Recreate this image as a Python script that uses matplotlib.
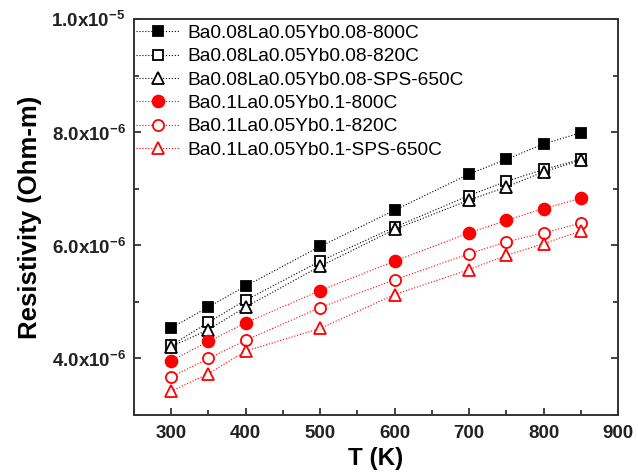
import matplotlib
matplotlib.use('Agg')
import matplotlib.pyplot as plt
from matplotlib.ticker import MultipleLocator, FuncFormatter

plt.rcParams['font.family'] = 'Liberation Sans'
plt.rcParams['mathtext.fontset'] = 'custom'
plt.rcParams['mathtext.rm'] = 'Liberation Sans:bold'
plt.rcParams['mathtext.bf'] = 'Liberation Sans:bold'

# Temperatura (K)
T = [300, 350, 400, 500, 600, 700, 750, 800, 850]

# Resistividade (x1e-6 Ohm-m)
s1 = [4.54, 4.91, 5.28, 5.98, 6.62, 7.26, 7.52, 7.79, 7.99]
s2 = [4.23, 4.64, 5.03, 5.72, 6.32, 6.88, 7.13, 7.34, 7.52]
s3 = [4.21, 4.51, 4.91, 5.63, 6.28, 6.80, 7.03, 7.30, 7.50]
s4 = [3.96, 4.30, 4.63, 5.20, 5.72, 6.22, 6.44, 6.65, 6.83]
s5 = [3.67, 4.00, 4.32, 4.90, 5.39, 5.85, 6.06, 6.22, 6.39]
s6 = [3.42, 3.73, 4.13, 4.53, 5.13, 5.57, 5.82, 6.03, 6.25]

labels = ['Ba0.08La0.05Yb0.08-800C', 'Ba0.08La0.05Yb0.08-820C',
          'Ba0.08La0.05Yb0.08-SPS-650C', 'Ba0.1La0.05Yb0.1-800C',
          'Ba0.1La0.05Yb0.1-820C', 'Ba0.1La0.05Yb0.1-SPS-650C']

series = [s1, s2, s3, s4, s5, s6]
cores = ['black', 'black', 'black', 'red', 'red', 'red']
marcadores = ['s', 's', '^', 'o', 'o', '^']
tamanhos = [7, 7, 8, 8.5, 8, 8.5]
cheios = [True, False, False, True, False, False]

fig = plt.figure(figsize=(6.38, 4.75), dpi=100)
ax = fig.add_axes([0.210, 0.1263, 0.7587, 0.8337])

for y, lab, c, m, ms, f in zip(series, labels, cores, marcadores, tamanhos, cheios):
    ax.plot(T, [v * 1e-6 for v in y], linestyle=':', linewidth=0.8,
            color=c, marker=m, markersize=ms,
            markerfacecolor=c if f else 'white', markeredgecolor=c,
            markeredgewidth=1.3, label=lab)

ax.set_xlim(250, 900)
ax.set_ylim(3e-6, 1e-5)
ax.xaxis.set_major_locator(MultipleLocator(100))
ax.xaxis.set_minor_locator(MultipleLocator(50))
ax.yaxis.set_major_locator(MultipleLocator(2e-6))
ax.yaxis.set_minor_locator(MultipleLocator(1e-6))


def fmt_y(v, pos):
    exp = -5 if v >= 9.99e-6 else -6
    mant = v / 10 ** exp
    return '%.1fx10$^{%d}$' % (mant, exp)


ax.yaxis.set_major_formatter(FuncFormatter(fmt_y))

ax.tick_params(which='both', direction='in', right=True, top=False,
               colors='#222222', labelsize=13.5, width=1.2)
ax.tick_params(which='major', length=5)
ax.tick_params(which='minor', length=3.5)
ax.tick_params(axis='x', pad=7)
ax.tick_params(axis='y', pad=6)
for lab in ax.get_xticklabels() + ax.get_yticklabels():
    lab.set_fontweight('bold')
for sp in ax.spines.values():
    sp.set_linewidth(1.4)
    sp.set_color('#333333')

ax.set_xlabel('T (K)', fontsize=17.5, fontweight='bold', labelpad=4)
ax.set_ylabel('Resistivity (Ohm-m)', fontsize=18.5, fontweight='bold', labelpad=7)

ax.legend(loc='upper left', bbox_to_anchor=(0, 0.992), borderaxespad=0,
          borderpad=0.12, frameon=False, fontsize=13.8, handlelength=2.3,
          handletextpad=0.35, labelspacing=0.31)

plt.savefig('out.png', dpi=100)
